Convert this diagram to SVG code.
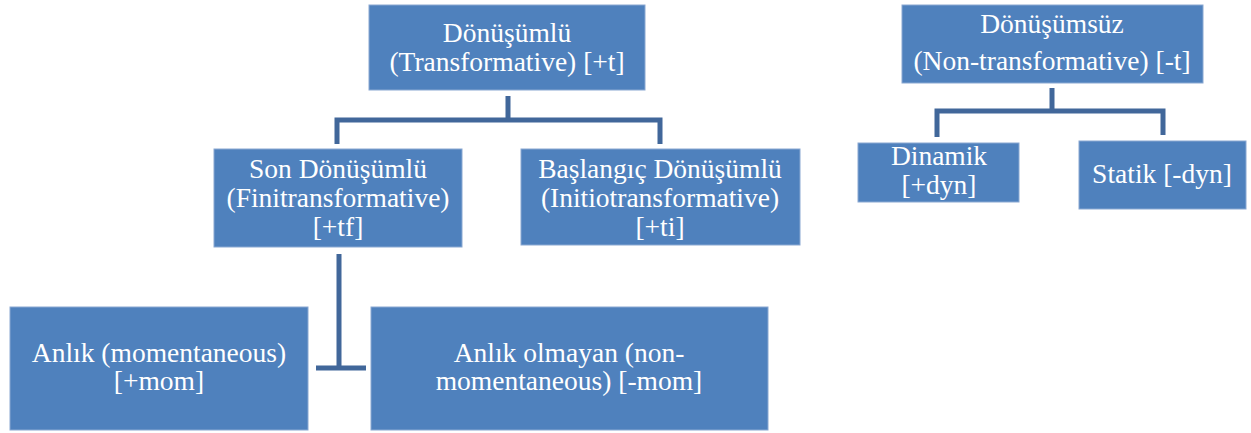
<svg xmlns="http://www.w3.org/2000/svg" width="1251" height="433" viewBox="0 0 1251 433">
<style>
.box{fill:#4F81BD;stroke:#8AA8D2;stroke-width:1}
.t{font-family:"Liberation Serif",serif;font-size:27.5px;fill:#FFFFFF;text-anchor:middle}
.c{fill:none;stroke:#41679A;stroke-width:5;stroke-linejoin:miter}
</style>
<rect width="1251" height="433" fill="#FFFFFF"/>
<g id="connectors">
<path class="c" d="M508,96 V120 M337,144 V120 H660 V144"/>
<path class="c" d="M339,254 V368 M316,368 H366"/>
<path class="c" d="M1052,88 V111 M937,137 V111 H1163 V135"/>
</g>
<g id="n-donusumlu">
<rect class="box" x="369" y="5" width="276" height="85"/>
<text class="t" x="507" y="42">Dönüşümlü</text>
<text class="t" x="507" y="71">(Transformative) [+t]</text>
</g>
<g id="n-son">
<rect class="box" x="214" y="149" width="248" height="98"/>
<text class="t" x="338" y="178">Son Dönüşümlü</text>
<text class="t" x="338" y="207">(Finitransformative)</text>
<text class="t" x="338" y="236">[+tf]</text>
</g>
<g id="n-baslangic">
<rect class="box" x="521" y="149" width="279" height="96"/>
<text class="t" x="660" y="178">Başlangıç Dönüşümlü</text>
<text class="t" x="660" y="207">(Initiotransformative)</text>
<text class="t" x="660" y="236">[+ti]</text>
</g>
<g id="n-anlik">
<rect class="box" x="10" y="307" width="298" height="123"/>
<text class="t" x="159" y="362">Anlık (momentaneous)</text>
<text class="t" x="159" y="390">[+mom]</text>
</g>
<g id="n-anlik-olmayan">
<rect class="box" x="371" y="307" width="397" height="123"/>
<text class="t" x="569" y="362">Anlık olmayan (non-</text>
<text class="t" x="569" y="390">momentaneous) [-mom]</text>
</g>
<g id="n-donusumsuz">
<rect class="box" x="902" y="5" width="301" height="78"/>
<text class="t" x="1052" y="33">Dönüşümsüz</text>
<text class="t" x="1052" y="70">(Non-transformative) [-t]</text>
</g>
<g id="n-dinamik">
<rect class="box" x="858" y="143" width="161" height="59"/>
<text class="t" x="939" y="165">Dinamik</text>
<text class="t" x="939" y="194">[+dyn]</text>
</g>
<g id="n-statik">
<rect class="box" x="1079" y="141" width="167" height="68"/>
<text class="t" x="1162" y="183">Statik [-dyn]</text>
</g>
</svg>
